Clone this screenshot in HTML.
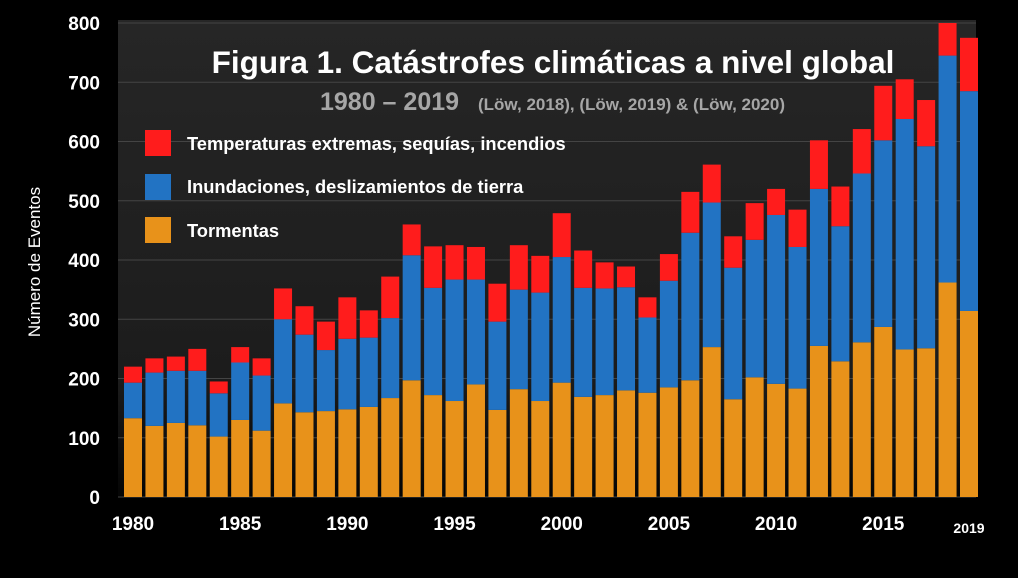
<!DOCTYPE html>
<html><head><meta charset="utf-8"><style>
body{margin:0;background:#000;width:1018px;height:573px;overflow:hidden;font-family:"Liberation Sans",sans-serif}
</style></head><body>
<svg width="1018" height="573" xmlns="http://www.w3.org/2000/svg">
<defs><linearGradient id="bg" x1="0" y1="0" x2="0" y2="1"><stop offset="0" stop-color="#262626"/><stop offset="0.75" stop-color="#1c1c1c"/><stop offset="1" stop-color="#050505"/></linearGradient></defs>
<rect x="0" y="0" width="1018" height="573" fill="#000"/>
<rect x="118" y="20" width="858" height="477" fill="url(#bg)"/>
<g id="grid"></g><g id="bars"></g><g id="axes"></g>
<text x="553" y="73" fill="#fff" font-size="31.5" font-weight="bold" text-anchor="middle">Figura 1. Catástrofes climáticas a nivel global</text>
<text x="320" y="110" fill="#a6a6a6" font-size="25" font-weight="bold">1980 – 2019 <tspan font-size="17" dx="12">(Löw, 2018), (Löw, 2019) &amp; (Löw, 2020)</tspan></text>
<g>
<rect x="145" y="130" width="26" height="26" fill="#ff1c1c"/>
<text x="187" y="150" fill="#fff" font-size="18.3" font-weight="bold">Temperaturas extremas, sequías, incendios</text>
<rect x="145" y="174" width="26" height="26" fill="#2273c3"/>
<text x="187" y="193" fill="#fff" font-size="18.3" font-weight="bold">Inundaciones, deslizamientos de tierra</text>
<rect x="145" y="217" width="26" height="26" fill="#e8921a"/>
<text x="187" y="237" fill="#fff" font-size="18.3" font-weight="bold">Tormentas</text>
</g>
<text transform="translate(40,262) rotate(-90)" fill="#fff" font-size="17" text-anchor="middle">Número de Eventos</text>
</svg>
<script>
const years=[];for(let y=1980;y<=2019;y++)years.push(y);
const storms=[133,120,125,121,102,130,112,158,143,145,148,152,167,197,172,162,190,147,182,162,193,169,172,180,176,185,197,253,165,202,191,183,255,229,261,287,249,251,362,314];
const floods=[60,90,88,92,73,97,93,142,131,103,119,117,135,211,181,205,177,149,168,183,212,184,180,174,127,180,249,244,222,232,285,239,265,228,285,315,389,341,383,371];
const temps=[27,24,24,37,20,26,29,52,48,48,70,46,70,52,70,58,55,64,75,62,74,63,44,35,34,45,69,64,53,62,44,63,82,67,75,92,67,78,60,90];
const yTicks=[0,100,200,300,400,500,600,700,800];
const xTickYears=[1980,1985,1990,1995,2000,2005,2010,2015];
const NS="http://www.w3.org/2000/svg";
const y0=497,y1=23,vmax=800;
const yS=v=>y0-(v/vmax)*(y0-y1);
const xS=i=>133+i*(969-133)/39;
const bw=18;
function mk(t,a,p){const e=document.createElementNS(NS,t);for(const k in a)e.setAttribute(k,a[k]);p.appendChild(e);return e;}
const g=document.getElementById('grid'),b=document.getElementById('bars'),ax=document.getElementById('axes');
yTicks.forEach(v=>{
 const l=mk('line',{x1:118,x2:976,y1:yS(v),y2:yS(v),stroke:'#444','stroke-width':1},g);
 
 
 const t=mk('text',{x:100,y:yS(v)+7,fill:'#fff','font-size':19,'font-weight':'bold','text-anchor':'end'},ax);
 t.textContent=v;
 
 
});
years.forEach((yr,i)=>{
 const segs=[[0,storms[i],'#e8921a','storms'],[storms[i],storms[i]+floods[i],'#2273c3','floods'],[storms[i]+floods[i],Math.min(vmax,storms[i]+floods[i]+temps[i]),'#ff1c1c','temps']];
 segs.forEach(s=>{
  const r=mk('rect',{x:xS(i)-bw/2,y:yS(s[1]),width:bw,height:yS(s[0])-yS(s[1]),fill:s[2]},b);
  
  
 });
});
xTickYears.forEach(yr=>{
 const i=years.indexOf(yr);
 const t=mk('text',{x:xS(i),y:530,fill:'#fff','font-size':19,'font-weight':'bold','text-anchor':'middle'},ax);
 t.textContent=yr;
 
 
});
const t2=mk('text',{x:xS(39),y:533,fill:'#fff','font-size':14,'font-weight':'bold','text-anchor':'middle'},ax);
t2.textContent='2019';


</script>
</body></html>
